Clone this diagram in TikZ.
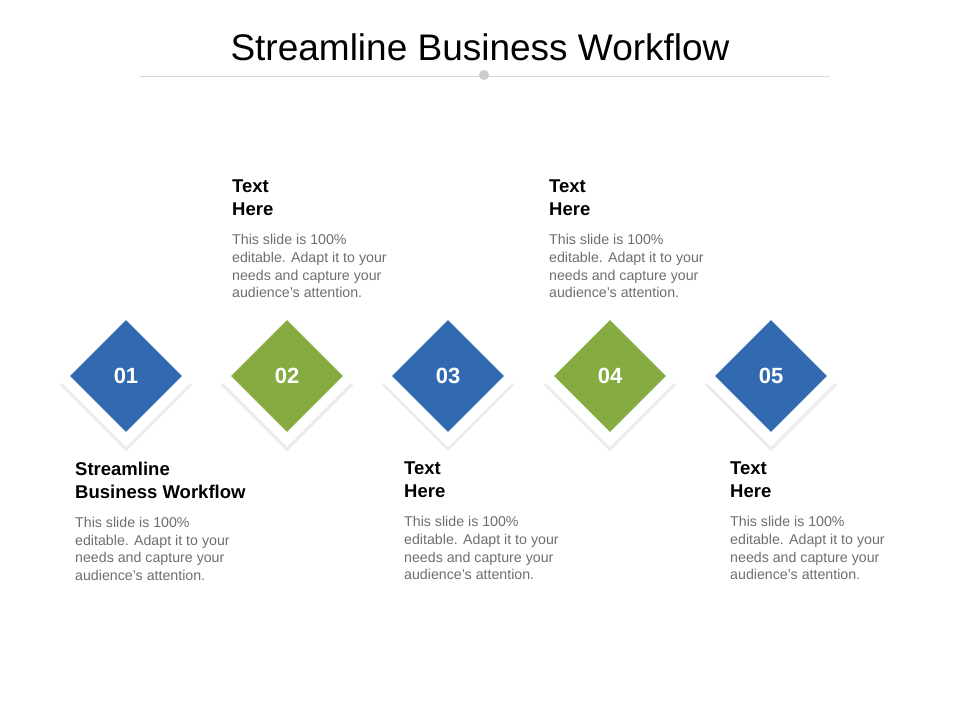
\documentclass[tikz,border=0pt]{standalone}
\usepackage{fontspec}
\setmainfont{Liberation Sans}
\usetikzlibrary{positioning}
\definecolor{dblue}{RGB}{50,106,178}
\definecolor{dgreen}{RGB}{134,172,65}
\definecolor{bodygray}{RGB}{110,110,110}
\tikzset{%
	gem/.style={draw=none, minimum size=79pt, inner sep=0pt, rotate=45, text=white},
	gemnum/.style={text=white, font=\bfseries\fontsize{22}{26}\selectfont},
	backgem/.style={fill=white, minimum size=93pt, inner sep=0pt, rotate=45},
	shade/.style={fill=black!12, minimum size=94pt, inner sep=0pt, rotate=45, opacity=0.6},
	head/.style={anchor=north west, align=left, inner sep=0pt, font=\bfseries\fontsize{18.5}{23}\selectfont},
	body/.style={anchor=north west, align=left, inner sep=0pt, text=bodygray, font=\fontsize{14.2}{17.7}\selectfont}
}
\begin{document}
\begin{tikzpicture}[x=1pt, y=-1pt]
	\useasboundingbox (0,0) rectangle (960,720);
	\node (title) at (480,47) {\fontsize{37}{42}\selectfont Streamline Business Workflow};
	\draw[black!15] (140,76) -- (830,76);
	\fill[black!20] (484,75) circle (5);

	% diamonds
	\foreach \i/\x/\c in {1/126/dblue, 2/287/dgreen, 3/448/dblue, 4/610/dgreen, 5/771/dblue} {
		\node[shade] at (\x,385) {};
		\node[backgem] at (\x,381) {};
		\node[gem, fill=\c] (d\i) at (\x,376) {};
		\node[gemnum] at (d\i) {0\i};
	}

	% texts above
	\node[head] (h2) at (232,180) {Text\\Here};
	\node[body, below=18pt of h2.south west, anchor=north west] (b2) {This slide is 100\%\\editable. Adapt it to your\\needs and capture your\\audience’s attention.};
	\node[head] (h4) at (549,180) {Text\\Here};
	\node[body, below=18pt of h4.south west, anchor=north west] (b4) {This slide is 100\%\\editable. Adapt it to your\\needs and capture your\\audience’s attention.};

	% texts below
	\node[head] (h1) at (75,462) {Streamline\\Business Workflow};
	\node[body, below=18pt of h1.south west, anchor=north west] (b1) {This slide is 100\%\\editable. Adapt it to your\\needs and capture your\\audience’s attention.};
	\node[head] (h3) at (404,462) {Text\\Here};
	\node[body, below=18pt of h3.south west, anchor=north west] (b3) {This slide is 100\%\\editable. Adapt it to your\\needs and capture your\\audience’s attention.};
	\node[head] (h5) at (730,462) {Text\\Here};
	\node[body, below=18pt of h5.south west, anchor=north west] (b5) {This slide is 100\%\\editable. Adapt it to your\\needs and capture your\\audience’s attention.};
\end{tikzpicture}
\end{document}
